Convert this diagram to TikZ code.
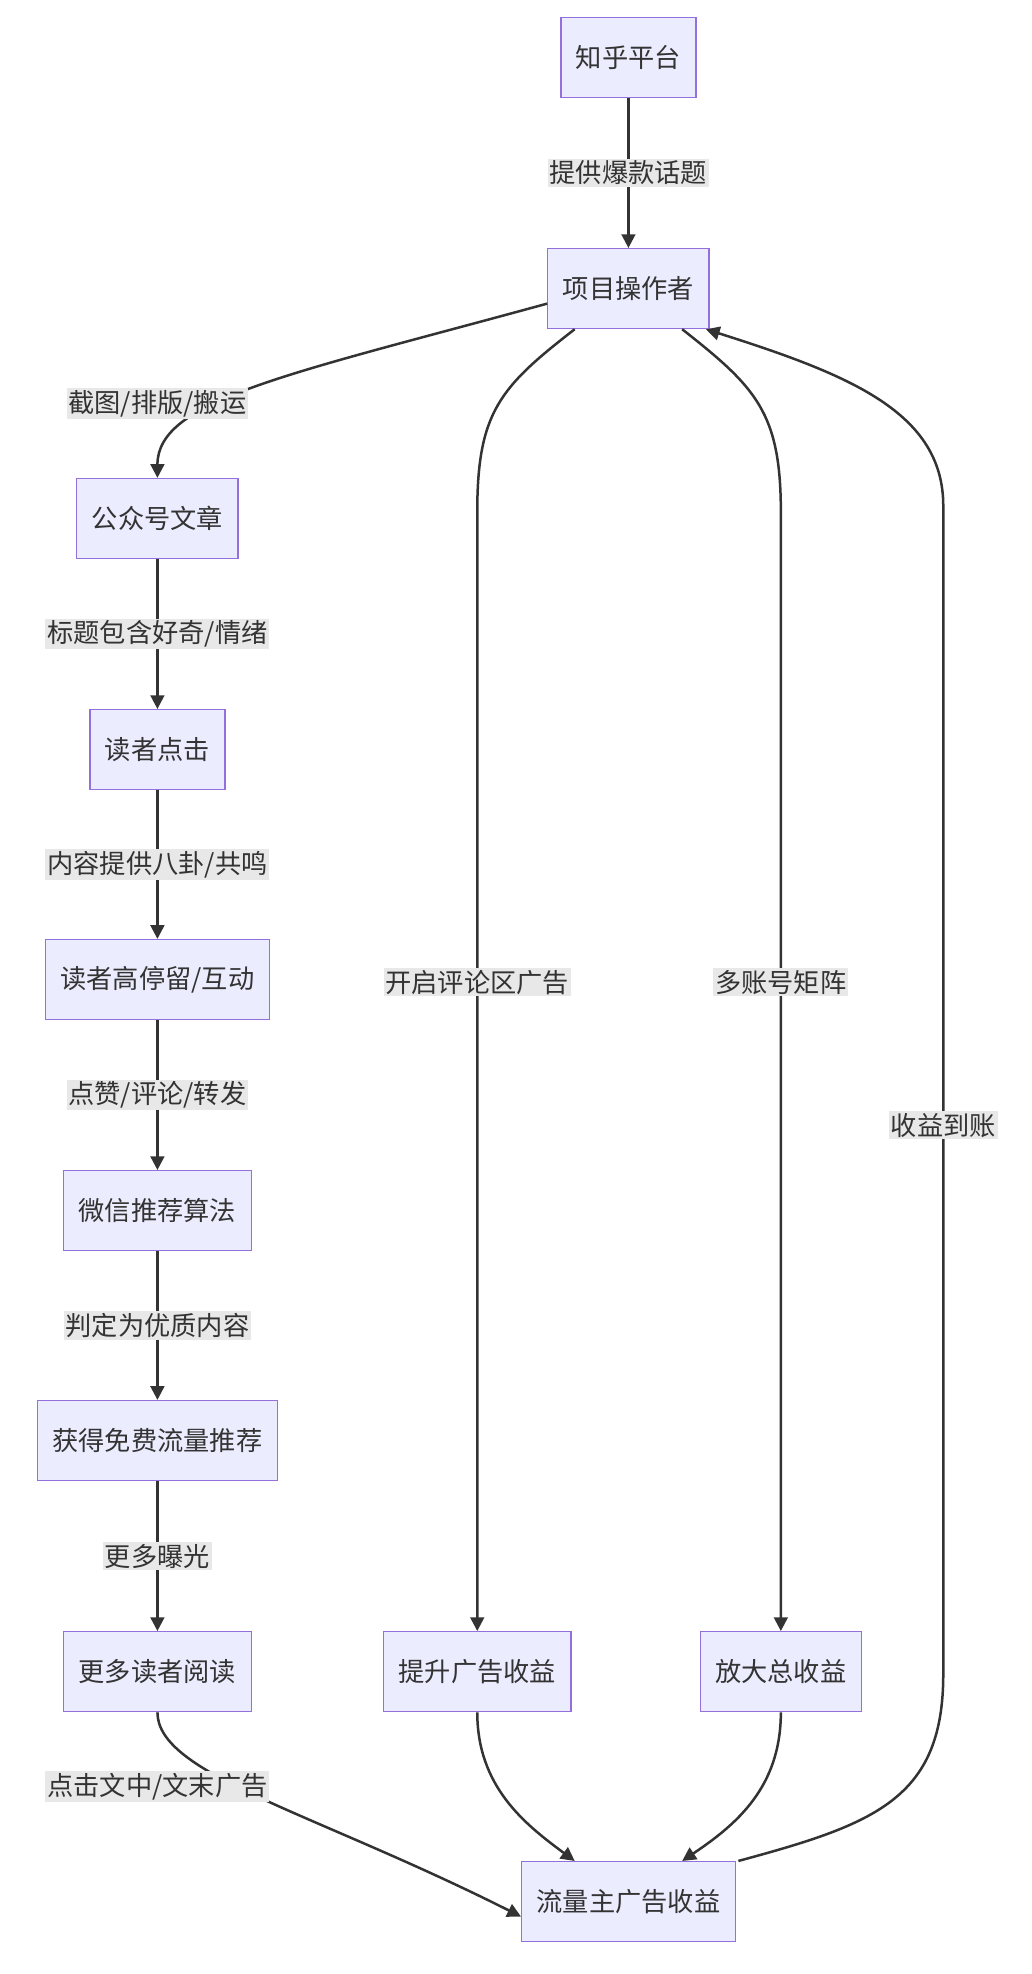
\documentclass[tikz,border=0pt]{standalone}
\usepackage{fontspec}
\setmainfont{Noto Sans CJK SC}
\usetikzlibrary{arrows.meta,positioning,calc}
\definecolor{boxfill}{HTML}{ECECFF}
\definecolor{boxline}{HTML}{9370DB}
\definecolor{edgecol}{HTML}{333333}
\definecolor{lblfill}{HTML}{E8E8E8}
\begin{document}
\begin{tikzpicture}[x=1pt,y=-1pt,
  box/.style={rectangle,draw=boxline,fill=boxfill,line width=1pt,minimum height=64,
    inner xsep=12pt,font=\fontsize{21}{24}\selectfont,text=edgecol},
  lbl/.style={fill=lblfill,inner sep=1.5pt,font=\fontsize{21}{24}\selectfont,text=edgecol},
  flow/.style={draw=edgecol,line width=2pt,-{Triangle[length=11pt,width=11pt]}}
]
\useasboundingbox (0,0) rectangle (826,1580);

% --- nodes ----------------------------------------------------
\node[box] (zh)  at (503,46)   {知乎平台};
\node[box] (op)  at (503,231)  {项目操作者};
\node[box] (art) at (126,415)  {公众号文章};
\node[box] (clk) at (126,600)  {读者点击};
\node[box] (stay) at (126,784) {读者高停留/互动};
\node[box] (alg) at (126,969)  {微信推荐算法};
\node[box] (free) at (126,1153) {获得免费流量推荐};
\node[box] (more) at (126,1338) {更多读者阅读};
\node[box] (up)  at (382,1338) {提升广告收益};
\node[box] (amp) at (625,1338) {放大总收益};
\node[box] (inc) at (503,1522) {流量主广告收益};

% --- edges ----------------------------------------------------
\draw[flow] (zh) -- node[lbl] {提供爆款话题} (op);
\draw[flow] ([yshift=-12]op.west) .. controls (230,300) and (126,320) .. (art.north);
\node[lbl] at (126,323) {截图/排版/搬运};
\draw[flow] (art) -- node[lbl] {标题包含好奇/情绪} (clk);
\draw[flow] (clk) -- node[lbl] {内容提供八卦/共鸣} (stay);
\draw[flow] (stay) -- node[lbl] {点赞/评论/转发} (alg);
\draw[flow] (alg) -- node[lbl] {判定为优质内容} (free);
\draw[flow] (free) -- node[lbl] {更多曝光} (more);
\draw[flow] ([xshift=-43]op.south) .. controls (400,310) and (382,330) .. (382,410)
  -- node[lbl,pos=0.42] {开启评论区广告} (up.north);
\draw[flow] ([xshift=43]op.south) .. controls (605,310) and (625,330) .. (625,410)
  -- node[lbl,pos=0.42] {多账号矩阵} (amp.north);
\draw[flow] (more.south) .. controls (126,1420) and (250,1450) .. ([yshift=-12]inc.west);
\node[lbl] at (126,1430) {点击文中/文末广告};
\draw[flow] (up.south) .. controls (382,1430) and (420,1460) .. ([xshift=-43]inc.north);
\draw[flow] (amp.south) .. controls (625,1430) and (590,1460) .. ([xshift=43]inc.north);
\draw[flow] ([xshift=88]inc.north) .. controls (700,1460) and (755,1440) .. (755,1340)
  -- node[lbl,pos=0.47] {收益到账} (755,405) .. controls (755,330) and (680,300) .. ([xshift=-3]op.south east);
\end{tikzpicture}
\end{document}
